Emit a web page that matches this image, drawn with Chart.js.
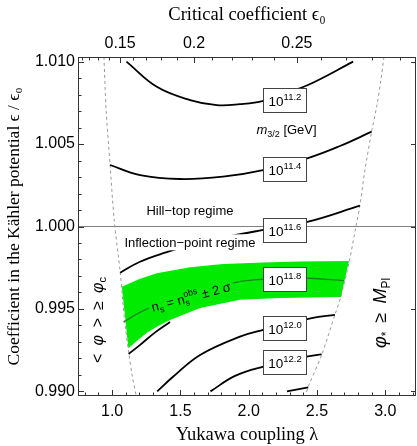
<!DOCTYPE html>
<html>
<head>
<meta charset="utf-8">
<script src="https://cdn.jsdelivr.net/npm/chart.js@4.4.0/dist/chart.umd.min.js"></script>
<style>
  html, body { margin: 0; padding: 0; background: #fff; }
</style>
</head>
<body>
<canvas id="myChart" width="417" height="446"></canvas>
<script>
// axis ranges and tick labels
const xMin = 0.75, xMax = 3.225;
const yMin = 0.98972, yMax = 1.01028;
const lambdaTicks = [1.0, 1.5, 2.0, 2.5, 3.0];
const epsTicks = [0.990, 0.995, 1.000, 1.005, 1.010];
// top axis: critical coefficient eps0, placed at the lambda where it sits
const eps0Labels = ['0.15', '0.2', '0.25'];
const eps0Lambda = [1.058, 1.600, 2.353];
const eps0MinorLambda = [0.776, 0.834, 0.900, 0.975, 1.150, 1.250, 1.358, 1.475,
                         1.734, 1.876, 2.027, 2.185, 2.529, 2.713, 2.906, 3.107];

// contours of m_3/2, points are [lambda, eps/eps0]
const contour112 = [[1.105, 1.0100], [1.327, 1.00847], [1.571, 1.00767], [1.766, 1.00736], [1.936, 1.00742],
                    [2.107, 1.00762], [2.266, 1.00809], [2.434, 1.00858], [2.765, 1.0100]];
const contour114 = [[0.985, 1.00373], [1.205, 1.00312], [1.497, 1.00288], [1.812, 1.00302], [2.105, 1.00342],
                    [2.434, 1.00415], [2.668, 1.00488], [2.900, 1.00575]];
const contour116 = [[1.059, 0.99720], [1.200, 0.99785], [1.388, 0.99841], [1.650, 0.99905], [1.936, 0.99953],
                    [2.107, 0.99979], [2.436, 1.00029], [2.814, 1.00126]];
const contour118 = [[1.083, 0.99421], [1.241, 0.99494], [1.571, 0.99597], [1.922, 0.99664], [2.105, 0.99680],
                    [2.302, 0.99688], [2.434, 0.99686], [2.697, 0.99672]];
const edgeLine   = [[1.121, 0.99227], [1.205, 0.99282], [1.315, 0.99358], [1.424, 0.99421]];
const contour120 = [[1.330, 0.9900], [1.448, 0.99090], [1.644, 0.99221], [1.936, 0.99332], [2.107, 0.99373],
                    [2.461, 0.99444], [2.631, 0.99464]];
const contour122 = [[1.720, 0.9900], [1.900, 0.99094], [2.107, 0.99150], [2.424, 0.99211], [2.534, 0.99225]];
const contour124 = [[2.280, 0.9900], [2.436, 0.99025]];

// n_s band (2 sigma), upper and lower edges
const bandTop = [[1.071, 0.99635], [1.200, 0.99682], [1.327, 0.99716], [1.571, 0.99753], [1.814, 0.99773],
                 [2.107, 0.99781], [2.375, 0.99788], [2.734, 0.99791]];
const bandBottom = [[1.119, 0.99262], [1.180, 0.99305], [1.254, 0.99355], [1.340, 0.99398], [1.424, 0.99433],
                    [1.644, 0.99506], [1.936, 0.99555], [2.229, 0.99567], [2.675, 0.99573]];

// excluded regions (dashed)
const boundLeft = [[0.940, 1.01028], [0.956, 1.00706], [0.985, 1.00373], [1.015, 1.00039], [1.059, 0.99724],
                   [1.077, 0.99555], [1.095, 0.99403], [1.121, 0.99239], [1.146, 0.99100], [1.176, 0.98972]];
const boundRight = [[2.990, 1.01028], [2.968, 1.00888], [2.939, 1.00736], [2.900, 1.00575], [2.851, 1.00342],
                    [2.814, 1.00126], [2.785, 0.99999], [2.736, 0.99787], [2.675, 0.99575], [2.631, 0.99464],
                    [2.534, 0.99221], [2.436, 0.99029], [2.416, 0.98972]];
const hillTopLine = [[xMin, 1.0], [xMax, 1.0]];

// contour labels (10^...) sit on the lines at this lambda
const contourLabels = ['11.2', '11.4', '11.6', '11.8', '12.0', '12.2'];
const labelLambda = 2.266;
const labelEps = [1.00767, 1.00348, 0.99979, 0.99682, 0.99385, 0.99179];

const SANS = "'Liberation Sans', Arial, Helvetica, sans-serif";
const SERIF = "'Liberation Serif', 'Times New Roman', 'DejaVu Serif', serif";
const GREEN = 'rgb(0,235,0)';
const EN = '\u2002';

const toXY = arr => arr.map(p => ({ x: p[0], y: p[1] }));

function curve(data, opts) {
    return Object.assign({
        data: toXY(data),
        showLine: true,
        borderColor: '#000',
        borderWidth: 1.8,
        pointRadius: 0,
        tension: 0.4,
        fill: false,
        order: 1
    }, opts || {});
}

// closed polygon for the band: top edge then bottom edge reversed
const bandShape = bandTop.concat(bandBottom.slice().reverse(), [bandTop[0]]);

function partFont(p) {
    return (p.it ? 'italic ' : '') + p.s + 'px ' + (p.f || SANS);
}

function richWidth(ctx, parts) {
    let w = 0;
    parts.forEach(p => {
        ctx.font = partFont(p);
        if (!p.noAdv) w += ctx.measureText(p.t).width;
    });
    return w;
}

// draws text pieces with sub/superscripts centred on cx, baseline at by
function drawRich(ctx, parts, cx, by) {
    let px = cx - richWidth(ctx, parts) / 2;
    ctx.textAlign = 'left';
    ctx.textBaseline = 'alphabetic';
    parts.forEach(p => {
        ctx.font = partFont(p);
        ctx.fillText(p.t, px, by + (p.dy || 0));
        if (!p.noAdv) px += ctx.measureText(p.t).width;
    });
}

const decorations = {
    id: 'decorations',
    afterDatasetsDraw(chart) {
        const ctx = chart.ctx;
        const xs = chart.scales.x, ys = chart.scales.y;
        ctx.save();

        // regime labels
        ctx.fillStyle = '#000';
        const hill = [{ t: 'Hill\u2212top regime', s: 13 }];
        drawRich(ctx, hill, xs.getPixelForValue(1.570), ys.getPixelForValue(1.00096) + 4.5);

        const infl = [{ t: 'Inflection\u2212point regime', s: 13 }];
        const ix = xs.getPixelForValue(1.570), iy = ys.getPixelForValue(0.99904);
        const iw = richWidth(ctx, infl);
        ctx.fillStyle = '#fff';
        ctx.fillRect(ix - iw / 2 - 2, iy - 8, iw + 4, 16);
        ctx.fillStyle = '#000';
        drawRich(ctx, infl, ix, iy + 4.5);

        const m32 = [{ t: 'm', s: 13, it: true }, { t: '3/2', s: 9, dy: 3 }, { t: ' [GeV]', s: 13 }];
        drawRich(ctx, m32, xs.getPixelForValue(2.277), ys.getPixelForValue(1.00591) + 4.5);

        // n_s label along the band
        const ns = [{ t: 'n', s: 13 }, { t: 's', s: 9, dy: 3 }, { t: ' = n', s: 13 },
                    { t: 's', s: 9, dy: 3, noAdv: true }, { t: 'obs', s: 9, dy: -6 }, { t: ' \u00b1 2 \u03c3', s: 13 }];
        ctx.translate(xs.getPixelForValue(1.578), ys.getPixelForValue(0.99573));
        ctx.rotate(-15 * Math.PI / 180);
        const nw = richWidth(ctx, ns);
        ctx.fillStyle = GREEN;
        ctx.fillRect(-nw / 2 - 3, -9, nw + 6, 17);
        ctx.fillStyle = '#000';
        drawRich(ctx, ns, 0, 4.5);
        ctx.setTransform(1, 0, 0, 1, 0, 0);

        // vertical labels at both sides
        const phic = [{ t: '<' + EN, s: 16 }, { t: '\u03c6', s: 16, it: true }, { t: EN + '>' + EN + '\u2265' + EN, s: 16 },
                      { t: '\u03c6', s: 16, it: true }, { t: 'c', s: 11, dy: 3 }];
        ctx.save();
        ctx.translate(xs.getPixelForValue(0.890), ys.getPixelForValue(0.99433));
        ctx.rotate(-Math.PI / 2);
        drawRich(ctx, phic, 0, 5.5);
        ctx.restore();

        const phis = [{ t: '\u03c6', s: 18, it: true }, { t: '*', s: 12, dy: 4 }, { t: EN + '\u2265' + EN, s: 18 },
                      { t: 'M', s: 18, it: true }, { t: 'Pl', s: 12, dy: 4 }];
        ctx.save();
        ctx.translate(xs.getPixelForValue(2.962), ys.getPixelForValue(0.99476));
        ctx.rotate(-Math.PI / 2);
        drawRich(ctx, phis, 0, 6);
        ctx.restore();

        // boxed contour labels
        contourLabels.forEach((lab, i) => {
            const cx = Math.round(xs.getPixelForValue(labelLambda));
            const cy = Math.round(ys.getPixelForValue(labelEps[i]));
            ctx.fillStyle = '#fff';
            ctx.fillRect(cx - 22, cy - 12, 44, 25);
            ctx.strokeStyle = '#444';
            ctx.lineWidth = 1;
            ctx.strokeRect(cx - 21.5, cy - 11.5, 43, 24);
            ctx.fillStyle = '#000';
            drawRich(ctx, [{ t: '10', s: 13.5 }, { t: lab, s: 9.5, dy: -6 }], cx, cy + 5.5);
        });
        ctx.restore();
    },
    afterDraw(chart) {
        const ctx = chart.ctx;
        const { left, right, top, bottom } = chart.chartArea;
        const xs = chart.scales.x, ys = chart.scales.y;
        ctx.save();
        ctx.strokeStyle = '#333';
        ctx.lineWidth = 1;
        ctx.strokeRect(left + 0.5, top + 0.5, right - left - 1, bottom - top - 1);

        const line = (x1, y1, x2, y2) => {
            ctx.beginPath();
            ctx.moveTo(x1, y1);
            ctx.lineTo(x2, y2);
            ctx.stroke();
        };
        // bottom: lambda ticks, minor every 0.1
        for (let v = 0.8; v < xMax; v += 0.1) {
            const px = Math.round(xs.getPixelForValue(v)) + 0.5;
            const major = lambdaTicks.some(t => Math.abs(t - v) < 1e-6);
            line(px, bottom, px, bottom - (major ? 6 : 3.5));
        }
        // top: eps0 ticks
        eps0Lambda.forEach(v => {
            const px = Math.round(xs.getPixelForValue(v)) + 0.5;
            line(px, top, px, top + 6);
        });
        eps0MinorLambda.forEach(v => {
            const px = Math.round(xs.getPixelForValue(v)) + 0.5;
            line(px, top, px, top + 3.5);
        });
        // left: major every 0.005, minor every 0.001; right: major only
        for (let v = 0.990; v < yMax; v += 0.001) {
            const py = Math.round(ys.getPixelForValue(v)) + 0.5;
            const major = epsTicks.some(t => Math.abs(t - v) < 1e-7);
            line(left, py, left + (major ? 6 : 3.5), py);
            if (major) line(right, py, right - 5, py);
        }
        ctx.restore();
    }
};

const ctx = document.getElementById('myChart').getContext('2d');
new Chart(ctx, {
    type: 'scatter',
    data: {
        datasets: [
            curve(contour112),
            curve(contour114),
            curve(contour116),
            curve(contour118, { borderColor: 'rgb(25,135,25)', borderWidth: 1.3 }),
            curve(edgeLine),
            curve(contour120),
            curve(contour122),
            curve(contour124),
            curve(boundLeft, { borderColor: '#999', borderWidth: 1, borderDash: [3, 3], tension: 0.3 }),
            curve(boundRight, { borderColor: '#999', borderWidth: 1, borderDash: [3, 3], tension: 0.3 }),
            curve(hillTopLine, { borderColor: '#808080', borderWidth: 1, tension: 0, order: 5 }),
            curve(bandShape, { borderWidth: 0, borderColor: GREEN, backgroundColor: GREEN, fill: 'shape', tension: 0, order: 10 })
        ]
    },
    options: {
        responsive: false,
        animation: false,
        layout: { padding: { left: 0, right: 1, top: 0, bottom: 0 } },
        plugins: {
            legend: { display: false },
            tooltip: { enabled: false }
        },
        scales: {
            x: {
                type: 'linear',
                position: 'bottom',
                min: xMin,
                max: xMax,
                afterBuildTicks: s => { s.ticks = lambdaTicks.map(v => ({ value: v })); },
                afterFit: s => { s.height = 50; },
                ticks: {
                    callback: v => Number(v).toFixed(1),
                    font: { family: SANS, size: 16 },
                    color: '#000',
                    padding: 6,
                    maxRotation: 0,
                    autoSkip: false
                },
                grid: { display: false, drawTicks: false },
                border: { display: false },
                title: {
                    display: true,
                    text: 'Yukawa coupling \u03bb',
                    font: { family: SERIF, size: 18.5 },
                    color: '#000',
                    padding: { top: 0, bottom: 0 }
                }
            },
            x2: {
                type: 'linear',
                position: 'top',
                min: xMin,
                max: xMax,
                afterBuildTicks: s => { s.ticks = eps0Lambda.map(v => ({ value: v })); },
                afterFit: s => { s.height = 57; },
                ticks: {
                    callback: (v, i) => eps0Labels[i],
                    font: { family: SANS, size: 16 },
                    color: '#000',
                    padding: 4,
                    maxRotation: 0,
                    autoSkip: false
                },
                grid: { display: false, drawTicks: false },
                border: { display: false },
                title: {
                    display: true,
                    text: 'Critical coefficient \u03f5\u2080',
                    font: { family: SERIF, size: 18.5 },
                    color: '#000',
                    padding: { top: 4, bottom: 0 }
                }
            },
            y: {
                type: 'linear',
                min: yMin,
                max: yMax,
                afterBuildTicks: s => { s.ticks = epsTicks.map(v => ({ value: v })); },
                afterFit: s => { s.width = 78; },
                ticks: {
                    callback: v => Number(v).toFixed(3),
                    font: { family: SANS, size: 16 },
                    color: '#000',
                    padding: 3,
                    autoSkip: false
                },
                grid: { display: false, drawTicks: false },
                border: { display: false },
                title: {
                    display: true,
                    text: 'Coefficient in the K\u00e4hler potential \u03f5 / \u03f5\u2080',
                    font: { family: SERIF, size: 17.5 },
                    color: '#000',
                    padding: { top: 4, bottom: 0 }
                }
            }
        }
    },
    plugins: [decorations]
});
</script>
</body>
</html>
